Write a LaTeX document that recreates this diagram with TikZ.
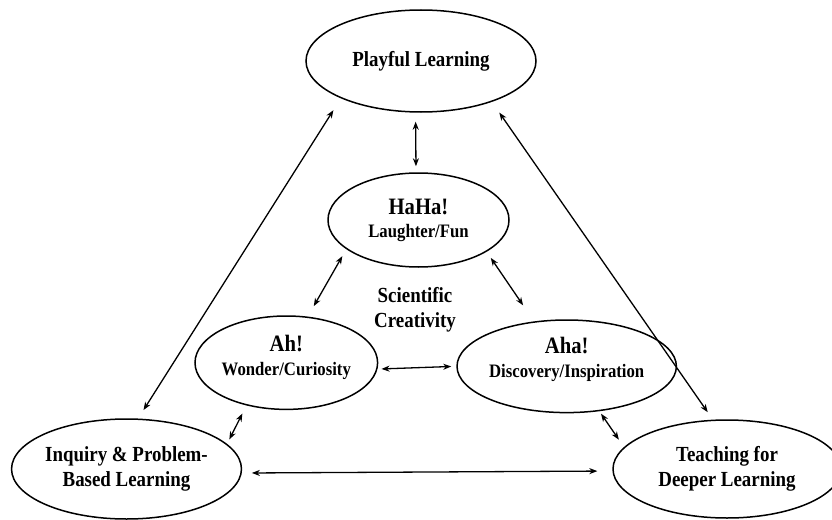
\documentclass[tikz,border=0pt]{standalone}
\usepackage{fontspec}
\setmainfont[FakeStretch=0.88]{Liberation Serif}
\usetikzlibrary{shapes.geometric,arrows.meta}
\begin{document}
\begin{tikzpicture}[x=1pt,y=-1pt,
  oval/.style={draw,ellipse,line width=1.5pt,inner sep=0pt,align=center},
  tip/.tip={Stealth[length=8pt,width=6pt,inset=2.5pt]},
  link/.style={tip-tip,line width=1.3pt},
  big/.style={font=\bfseries\fontsize{21.5}{25}\selectfont},
  duo/.style={font=\bfseries\fontsize{19}{#1}\selectfont}
  ]
\useasboundingbox (0,0) rectangle (832,519);
\node[oval,big,minimum width=230pt,minimum height=102pt] (pl) at (421,61) {Playful Learning};
\node[oval,duo=23,minimum width=181pt,minimum height=94pt] (hh) at (418.5,220)
  {{\fontsize{23.5}{23}\selectfont HaHa!}\\Laughter/Fun};
\node[oval,duo=24,minimum width=180.6pt,minimum height=93.4pt,text depth=14pt] (ah) at (286.3,362.7)
  {{\fontsize{23.5}{24}\selectfont Ah!}\\Wonder/Curiosity};
\node[oval,duo=24,minimum width=180pt,minimum height=92.6pt,text depth=18pt] (aha) at (566.7,366.3)
  {{\fontsize{23.5}{24}\selectfont Aha!}\\Discovery/Inspiration};
\node[oval,big,minimum width=229pt,minimum height=100pt] (iq) at (126.5,469)
  {Inquiry \& Problem-\\Based Learning};
\node[oval,big,minimum width=228pt,minimum height=98pt] (tl) at (727,469)
  {Teaching for\\Deeper Learning};
\node[big,align=center] (sc) at (415,309.5) {Scientific\\Creativity};

\draw[link,shorten <=9pt,shorten >=6pt] (pl.264.4) -- (hh.93);
\draw[link,shorten <=14pt,shorten >=10pt] (pl.205.1) -- (iq.77.3);
\draw[link,shorten <=13pt,shorten >=9pt] (pl.330.3) -- (tl.106);
\draw[link,shorten <=8pt,shorten >=12pt] (hh.202.2) -- (ah.65.5);
\draw[link,shorten <=7.4pt,shorten >=19.4pt] (hh.335.3) -- (aha.126.2);
\draw[link,shorten <=4pt,shorten >=5pt] (ah.356) -- (aha.180);
\draw[link,shorten <=9pt,shorten >=5pt] (ah.227.8) -- (iq.14.8);
\draw[link,shorten <=3pt,shorten >=9pt] (aha.306.1) -- (tl.168.2);
\draw[link,shorten <=10pt,shorten >=15pt] (iq.358.5) -- (tl.181.5);
\end{tikzpicture}
\end{document}
